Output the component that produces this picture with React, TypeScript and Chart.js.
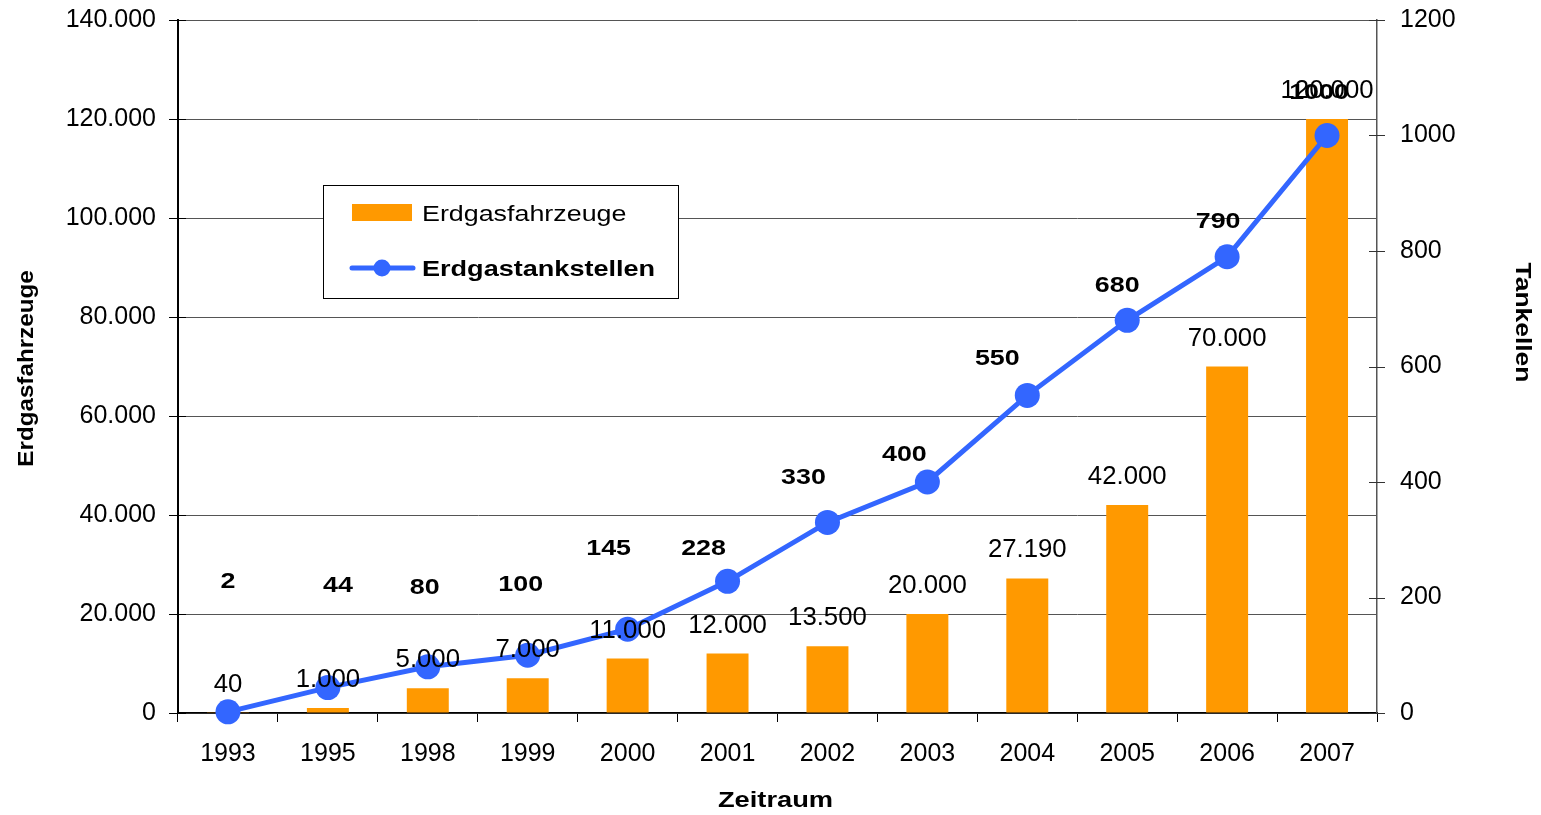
import React, { useEffect, useRef } from 'react';
import { Chart, registerables } from 'chart.js';

Chart.register(...registerables);

// ---------- data ----------
const categories = ['1993', '1995', '1998', '1999', '2000', '2001', '2002', '2003', '2004', '2005', '2006', '2007'];
const vehicles = [40, 1000, 5000, 7000, 11000, 12000, 13500, 20000, 27190, 42000, 70000, 120000];
const stations = [2, 44, 80, 100, 145, 228, 330, 400, 550, 680, 790, 1000];

const leftMax = 140000;
const leftStep = 20000;
const rightMax = 1200;
const rightStep = 200;

// label placement (annotation layout, px relative to each point)
const stationLabelDx = [0, 10, -3, -7, -19, -24, -24, -23, -30, -10, -9, -8];
const stationLabelLift = [132, 104, 81, 72, 82, 34, 46, 29, 38, 36, 37, 45];

const FONT = '"Liberation Sans", Arial, Helvetica, sans-serif';
const ORANGE = '#FF9900';
const BLUE = '#3366FF';

function fmt(v: number): string {
  return String(Math.round(v)).replace(/\B(?=(\d{3})+(?!\d))/g, '.');
}

// draw text horizontally widened by factor sx
function drawWide(ctx: CanvasRenderingContext2D, text: string, x: number, y: number, sx: number, align: 'left' | 'center' | 'right') {
  ctx.save();
  ctx.textAlign = 'left';
  const w = ctx.measureText(text).width * sx;
  let left = x;
  if (align === 'center') left = x - w / 2;
  else if (align === 'right') left = x - w;
  ctx.translate(left, y);
  ctx.scale(sx, 1);
  ctx.fillText(text, 0, 0);
  ctx.restore();
}

const overlayPlugin = {
  id: 'overlay',
  afterDatasetsDraw(chart: any) {
    const ctx: CanvasRenderingContext2D = chart.ctx;
    const yL = chart.scales.y;
    const yR = chart.scales.y1;

    // crossing tick marks on both value axes
    ctx.save();
    ctx.lineWidth = 1;
    ctx.strokeStyle = '#000';
    yL.ticks.forEach((t: any) => {
      const py = Math.round(yL.getPixelForValue(t.value)) + 0.5;
      ctx.beginPath();
      ctx.moveTo(yL.right - 9, py);
      ctx.lineTo(yL.right + 8, py);
      ctx.stroke();
    });
    ctx.strokeStyle = '#333';
    yR.ticks.forEach((t: any) => {
      const py = Math.round(yR.getPixelForValue(t.value)) + 0.5;
      ctx.beginPath();
      ctx.moveTo(yR.left - 8, py);
      ctx.lineTo(yR.left + 8, py);
      ctx.stroke();
    });
    ctx.restore();

    // bar value labels
    const barMeta = chart.getDatasetMeta(0);
    ctx.save();
    ctx.fillStyle = '#000';
    ctx.font = `25px ${FONT}`;
    ctx.textBaseline = 'alphabetic';
    barMeta.data.forEach((el: any, i: number) => {
      drawWide(ctx, fmt(vehicles[i]), el.x, el.y - 21, 1.03, 'center');
    });
    ctx.restore();

    // line value labels
    const lineMeta = chart.getDatasetMeta(1);
    ctx.save();
    ctx.fillStyle = '#000';
    ctx.font = `bold 22px ${FONT}`;
    ctx.textBaseline = 'alphabetic';
    lineMeta.data.forEach((el: any, i: number) => {
      drawWide(ctx, String(stations[i]), el.x + stationLabelDx[i], el.y - stationLabelLift[i] + 8, 1.22, 'center');
    });
    ctx.restore();

    // legend
    ctx.save();
    ctx.fillStyle = '#fff';
    ctx.fillRect(323.5, 185.5, 355, 113);
    ctx.strokeStyle = '#000';
    ctx.lineWidth = 1;
    ctx.strokeRect(323.5, 185.5, 355, 113);
    ctx.fillStyle = ORANGE;
    ctx.fillRect(352, 204, 60, 17);
    ctx.strokeStyle = BLUE;
    ctx.lineWidth = 5;
    ctx.lineCap = 'round';
    ctx.beginPath();
    ctx.moveTo(352, 268);
    ctx.lineTo(413, 268);
    ctx.stroke();
    ctx.fillStyle = BLUE;
    ctx.beginPath();
    ctx.arc(382, 268, 8.5, 0, Math.PI * 2);
    ctx.fill();
    ctx.fillStyle = '#000';
    ctx.textBaseline = 'alphabetic';
    ctx.font = `22px ${FONT}`;
    drawWide(ctx, 'Erdgasfahrzeuge', 422, 221, 1.22, 'left');
    ctx.font = `bold 22px ${FONT}`;
    drawWide(ctx, 'Erdgastankstellen', 422, 276, 1.23, 'left');
    ctx.restore();
  },
  afterDraw(chart: any) {
    const ctx: CanvasRenderingContext2D = chart.ctx;
    const area = chart.chartArea;
    ctx.save();
    ctx.fillStyle = '#000';
    ctx.font = `bold 22px ${FONT}`;
    ctx.textBaseline = 'alphabetic';
    // x title
    drawWide(ctx, 'Zeitraum', (area.left + area.right) / 2 - 2, 807, 1.24, 'center');
    // left title
    ctx.save();
    ctx.translate(33, (area.top + area.bottom) / 2 + 2);
    ctx.rotate(-Math.PI / 2);
    drawWide(ctx, 'Erdgasfahrzeuge', 0, 0, 1.1, 'center');
    ctx.restore();
    // right title
    ctx.save();
    ctx.translate(1516, 322.5);
    ctx.rotate(Math.PI / 2);
    drawWide(ctx, 'Tankellen', 0, 0, 1.2, 'center');
    ctx.restore();
    ctx.restore();
  },
};

export default function App() {
  const canvasRef = useRef<HTMLCanvasElement | null>(null);

  useEffect(() => {
    document.body.style.margin = '0';
    const canvas = canvasRef.current;
    if (!canvas) return;
    const tickFont = { family: FONT, size: 25 };
    const chart = new Chart(canvas, {
      data: {
        labels: categories,
        datasets: [
          {
            type: 'bar',
            label: 'Erdgasfahrzeuge',
            data: vehicles,
            backgroundColor: ORANGE,
            borderWidth: 0,
            yAxisID: 'y',
            order: 1,
            barPercentage: 0.42,
            categoryPercentage: 1,
          },
          {
            type: 'line',
            label: 'Erdgastankstellen',
            data: stations,
            borderColor: BLUE,
            backgroundColor: BLUE,
            borderWidth: 5,
            pointRadius: 12.5,
            pointBackgroundColor: BLUE,
            pointBorderColor: BLUE,
            pointBorderWidth: 0,
            yAxisID: 'y1',
            order: 0,
            tension: 0,
            clip: false,
          },
        ] as any,
      },
      options: {
        responsive: false,
        animation: false,
        devicePixelRatio: 1,
        layout: { padding: { top: 20, left: 0, right: 0, bottom: 0 } },
        plugins: {
          legend: { display: false },
          tooltip: { enabled: false },
        },
        scales: {
          x: {
            type: 'category',
            offset: true,
            grid: { offset: true, drawOnChartArea: false, drawTicks: true, tickLength: 9, color: '#000', lineWidth: 1 },
            border: { display: true, color: '#000', width: 1.5 },
            ticks: { font: tickFont, color: '#000', padding: 17, maxRotation: 0, autoSkip: false },
            afterFit: (s: any) => { s.height = 102; s.paddingLeft = 0; s.paddingRight = 0; },
          },
          y: {
            position: 'left',
            min: 0,
            max: leftMax,
            ticks: { stepSize: leftStep, font: tickFont, color: '#000', padding: 22, callback: (v: any) => fmt(Number(v)) },
            grid: { color: '#555', lineWidth: 1, drawTicks: false },
            border: { display: true, color: '#000', width: 2 },
            afterFit: (s: any) => { s.width = 178; s.paddingTop = 0; s.paddingBottom = 0; },
          },
          y1: {
            position: 'right',
            min: 0,
            max: rightMax,
            ticks: { stepSize: rightStep, font: tickFont, color: '#000', padding: 23, callback: (v: any) => String(v) },
            grid: { drawOnChartArea: false, drawTicks: false },
            border: { display: true, color: '#555', width: 1.5 },
            afterFit: (s: any) => { s.width = 164; s.paddingTop = 0; s.paddingBottom = 0; },
          },
        } as any,
      },
      plugins: [overlayPlugin],
    } as any);
    return () => chart.destroy();
  }, []);

  return (
    <div style={{ width: 1541, height: 815, background: '#fff' }}>
      <canvas ref={canvasRef} width={1541} height={815} style={{ display: 'block' }} />
    </div>
  );
}
